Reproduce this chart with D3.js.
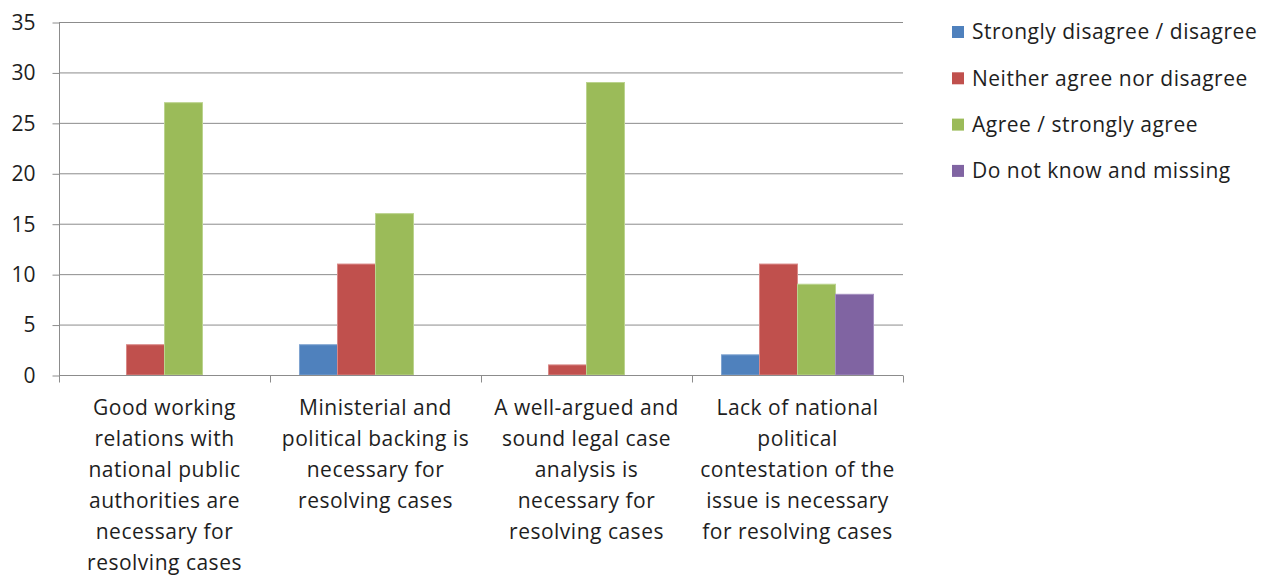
<!DOCTYPE html>
<html><head><meta charset="utf-8">
<script src="https://cdn.jsdelivr.net/npm/d3@7"></script>
<style>body{margin:0;background:#fff;} text{font-family:"Open Sans", sans-serif;fill:#1e1e1e;}</style>
</head><body>
<svg id="c" width="1261" height="577"></svg>
<script>
const categories = ["Good working relations with national public authorities are necessary for resolving cases",
  "Ministerial and political backing is necessary for resolving cases",
  "A well-argued and sound legal case analysis is necessary for resolving cases",
  "Lack of national political contestation of the issue is necessary for resolving cases"];
const categoryLines = [
  ["Good working","relations with","national public","authorities are","necessary for","resolving cases"],
  ["Ministerial and","political backing is","necessary for","resolving cases"],
  ["A well-argued and","sound legal case","analysis is","necessary for","resolving cases"],
  ["Lack of national","political","contestation of the","issue is necessary","for resolving cases"]
];
const seriesNames = ["Strongly disagree / disagree","Neither agree nor disagree","Agree / strongly agree","Do not know and missing"];
const stronglyDisagree = [0,3,0,2];
const neither = [3,11,1,11];
const agree = [27,16,29,9];
const doNotKnow = [0,0,0,8];
const yTicks = [0,5,10,15,20,25,30,35];
const colors = ["#4F81BD","#C0504D","#9BBB59","#8064A2"];
const strokes = ["#7FA3D0","#D98886","#BBD38E","#A590C0"];

const values = [stronglyDisagree, neither, agree, doNotKnow];
const svg = d3.select("#c");
const m = {l:59, r:903, t:22, b:375};
const x = d3.scaleBand().domain(d3.range(categories.length)).range([m.l, m.r]).paddingInner(0).paddingOuter(0);
const inner = d3.scaleBand().domain(d3.range(seriesNames.length)).range([0, x.bandwidth()]).paddingInner(0).paddingOuter(0.776);
const y = d3.scaleLinear().domain([0,35]).range([m.b, m.t]);

svg.append("g").selectAll("line").data(yTicks.filter(d=>d>0)).join("line")
  .attr("x1", m.l).attr("x2", m.r).attr("y1", d=>y(d)+0.5).attr("y2", d=>y(d)+0.5)
  .attr("stroke","#8c8c8c").attr("stroke-width",1);

const ya = svg.append("g").attr("transform",`translate(${m.l+0.5},0)`)
  .call(d3.axisLeft(y).tickValues(yTicks).tickSize(7).tickPadding(17));
ya.select(".domain").attr("stroke","#8c8c8c").attr("d",`M0,${m.t}V${m.b}`);
ya.selectAll(".tick line").attr("stroke","#8c8c8c").attr("transform","translate(0,0.5)");
ya.selectAll(".tick text").style("font-size","21px").style("font-family","'Open Sans', sans-serif").attr("fill","#1e1e1e").attr("dy","0.35em");

const g = svg.append("g");
values.forEach((vals, si) => {
  g.append("g").selectAll("rect").data(vals.map((v,ci)=>({v,ci})).filter(d=>d.v>0)).join("rect")
    .attr("x", d=>x(d.ci)+inner(si))
    .attr("width", inner.bandwidth())
    .attr("y", d=>y(d.v))
    .attr("height", d=>y(0)-y(d.v))
    .attr("fill", colors[si]).attr("stroke", strokes[si]).attr("stroke-width",1);
});

const xa = svg.append("g").attr("transform",`translate(0,${m.b+0.5})`);
xa.append("line").attr("x1",m.l).attr("x2",m.r).attr("stroke","#8c8c8c");
const xt = d3.range(categories.length+1).map(i => i<categories.length ? x(i) : m.r);
xa.selectAll(".tk").data(xt).join("line").attr("class","tk")
  .attr("x1",d=>Math.round(d)+0.5).attr("x2",d=>Math.round(d)+0.5).attr("y1",0).attr("y2",7).attr("stroke","#8c8c8c");

categoryLines.forEach((lines, ci) => {
  const t = svg.append("text").attr("text-anchor","middle").style("font-size","21px").style("letter-spacing","0.5px");
  lines.forEach((ln, li) => {
    t.append("tspan").attr("x", x(ci)+x.bandwidth()/2).attr("y", 415 + li*31).text(ln);
  });
});

const lg = svg.append("g");
seriesNames.forEach((n, i) => {
  const yy = 32 + i*46.3;
  lg.append("rect").attr("x",952).attr("y",yy-6).attr("width",12).attr("height",12).attr("fill",colors[i]);
  lg.append("text").attr("x",972).attr("y",yy).attr("dy","0.35em").style("font-size","21px").style("letter-spacing","0.5px").text(n);
});
</script>
</body></html>
